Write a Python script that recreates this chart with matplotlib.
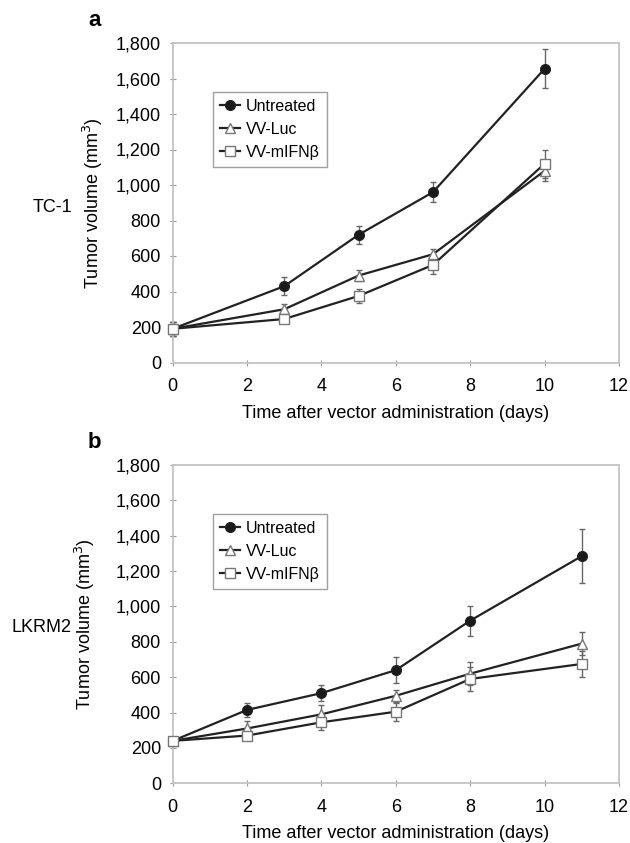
import numpy as np
import matplotlib.pyplot as plt

plt.rcParams['font.family'] = ['Liberation Sans', 'DejaVu Sans']

# panel a - TC-1
days_a = [0, 3, 5, 7, 10]
untreated_a = [190, 430, 720, 960, 1655]
untreated_a_err = [40, 50, 50, 55, 110]
luc_a = [190, 300, 490, 610, 1080]
luc_a_err = [40, 30, 30, 30, 60]
ifn_a = [190, 245, 375, 550, 1120]
ifn_a_err = [40, 20, 40, 50, 80]

# panel b - LKRM2
days_b = [0, 2, 4, 6, 8, 11]
untreated_b = [240, 415, 510, 640, 920, 1285]
untreated_b_err = [20, 40, 45, 75, 85, 155]
luc_b = [240, 310, 390, 495, 620, 790]
luc_b_err = [20, 40, 50, 35, 65, 65]
ifn_b = [240, 270, 345, 405, 590, 675]
ifn_b_err = [20, 20, 45, 50, 70, 75]

yticks = np.arange(0, 1801, 200)
xticks = np.arange(0, 13, 2)


def draw_panel(ax, days, series, letter, cell, ylab_x, cell_y):
    styles = [
        ('Untreated', 'o', '#1a1a1a', '#222222'),
        ('VV-Luc', '^', 'white', '#777777'),
        ('VV-mIFN\u03b2', 's', 'white', '#777777'),
    ]
    for (vals, errs), (label, marker, face, edge) in zip(series, styles):
        ax.errorbar(days, vals, yerr=errs, fmt='none', ecolor='#666666',
                    elinewidth=1.0, capsize=2, capthick=1.0, clip_on=False, zorder=2)
        ax.plot(days, vals, color='#222222', lw=1.6, marker=marker, ms=7,
                mfc=face, mec=edge, mew=1.0, label=label, clip_on=False, zorder=3)
    ax.set_xlim(0, 12)
    ax.set_ylim(0, 1800)
    ax.set_xticks(xticks)
    ax.set_yticks(yticks)
    ax.set_yticklabels([f'{v:,}' for v in yticks])
    ax.tick_params(labelsize=13, color='#999999', length=4, direction='inout')
    ax.tick_params(axis='x', pad=9)
    ax.tick_params(axis='y', pad=6.5)
    for s in ['left', 'bottom', 'top', 'right']:
        ax.spines[s].set_color('#c4c4c4')
        ax.spines[s].set_linewidth(1.3)
    ax.set_xlabel('Time after vector administration (days)', fontsize=13, labelpad=7)
    ax.set_ylabel('Tumor volume (mm$^3$)', fontsize=13)
    ax.yaxis.set_label_coords(ylab_x, 0.5)
    ax.text(-0.175, 1.07, letter, transform=ax.transAxes, fontsize=16,
            fontweight='bold', ha='center', va='center')
    ax.text(-0.226, cell_y, cell, transform=ax.transAxes, fontsize=13,
            va='center', ha='right')
    leg = ax.legend(loc='upper left', bbox_to_anchor=(0.09, 0.847), fontsize=11.5,
                    frameon=True, fancybox=False, borderpad=0.45, labelspacing=0.5,
                    handlelength=1.25, handletextpad=0.35, borderaxespad=0)
    leg.get_frame().set_edgecolor('#888888')
    leg.get_frame().set_linewidth(1.0)


fig = plt.figure(figsize=(6.3, 8.43), dpi=100)
ax1 = fig.add_axes([172.7 / 630, 1 - 362.5 / 843, 446.3 / 630, 319.5 / 843])
ax2 = fig.add_axes([172.7 / 630, 1 - 783.3 / 843, 446.3 / 630, 318.3 / 843])

draw_panel(ax1, days_a, [(untreated_a, untreated_a_err), (luc_a, luc_a_err), (ifn_a, ifn_a_err)],
           'a', 'TC-1', -0.152, 0.484)
draw_panel(ax2, days_b, [(untreated_b, untreated_b_err), (luc_b, luc_b_err), (ifn_b, ifn_b_err)],
           'b', 'LKRM2', -0.170, 0.491)

fig.savefig('out.png', dpi=100)
